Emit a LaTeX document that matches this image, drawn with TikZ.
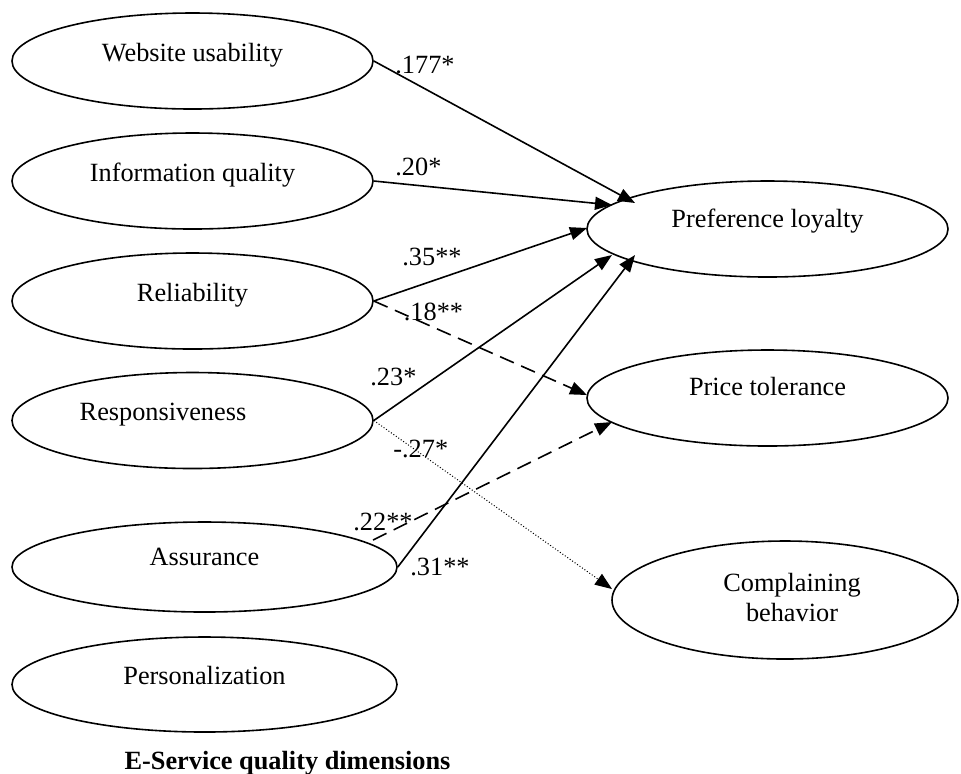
\documentclass[tikz,border=0pt]{standalone}
\usepackage{fontspec}
\setmainfont{Liberation Serif}
\usetikzlibrary{shapes.geometric,arrows.meta}
\begin{document}
\begin{tikzpicture}[x=0.5pt,y=-0.5pt,
  ell/.style={draw,ellipse,line width=0.8pt,inner sep=0pt},
  lft/.style={ell,minimum width=180.5pt,minimum height=48pt},
  txt/.style={anchor=base,inner sep=0pt,font=\fontsize{13.15}{15.8}\selectfont},
  coef/.style={anchor=base west,inner sep=0pt,font=\fontsize{13.15}{15.8}\selectfont},
  arr/.style={line width=0.8pt,-{Triangle[length=8.5pt,width=6.5pt]}},
  dsh/.style={dash pattern=on 7.5pt off 4pt},
  dtt/.style={dash pattern=on 0.5pt off 1pt,line width=0.5pt}
]
\useasboundingbox (0,0) rectangle (961,773);

% left ellipses
\node[lft] (wu) at (192.5,61) {};
\node[lft] (iq) at (192.5,181) {};
\node[lft] (re) at (192.5,301) {};
\node[lft] (rs) at (192.5,420.5) {};
\node[ell,minimum width=192.5pt,minimum height=45pt] (as) at (204.5,567) {};
\node[ell,minimum width=192.5pt,minimum height=47.5pt] (pz) at (204.5,684.5) {};
% right ellipses
\node[lft] (pl) at (767.5,229) {};
\node[lft] (pt) at (767.5,398) {};
\node[ell,minimum width=173pt,minimum height=59pt] (cb) at (785,600) {};

% texts
\node[txt] (wut) at (wu.center) {Website usability};
\node[txt] (iqt) at (iq.center) {Information quality};
\node[txt] (ret) at (re.center) {Reliability};
\node[txt] (rst) at ([xshift=-14.75pt]rs.center) {Responsiveness};
\node[txt] (ast) at ([yshift=0.75pt]as.center) {Assurance};
\node[txt] (pzt) at ([yshift=0.25pt]pz.center) {Personalization};
\node[txt] (plt) at ([yshift=0.75pt]pl.center) {Preference loyalty};
\node[txt] (ptt) at ([yshift=1.25pt]pt.center) {Price tolerance};
\node[txt] (cbt1) at ([xshift=3.5pt,yshift=4.5pt]cb.center) {Complaining};
\node[txt] (cbt2) at ([xshift=3.5pt,yshift=-10.5pt]cb.center) {behavior};
\node[txt,font=\fontsize{13.15}{15.8}\selectfont\bfseries] (title) at (287.5,769) {E-Service quality dimensions};

% connectors
\draw[arr] (wu.east) -- ([shift={(-132.5,-26)}]pl.center);
\draw[arr] (iq.east) -- ([shift={(-155.5,-24)}]pl.center);
\draw[arr] (re.east) -- ([shift={(-180.5,-1)}]pl.center);
\draw[arr,dsh] (re.east) -- ([shift={(-180.5,-3)}]pt.center);
\draw[arr] (rs.east) -- ([shift={(-155.5,26)}]pl.center);
\draw[arr,dtt] (rs.east) -- ([shift={(-173,-11)}]cb.center);
\draw[arr] (as.east) -- ([shift={(-132.5,26)}]pl.center);
\draw[arr,dsh] ([shift={(168.5,-27)}]as.center) -- ([shift={(-155.5,24)}]pt.center);

% coefficients
\node[coef] (c1) at (395,73) {.177*};
\node[coef] (c2) at (395,175) {.20*};
\node[coef] (c3) at (402,265) {.35**};
\node[coef] (c4) at (403.5,320) {.18**};
\node[coef] (c5) at (370,385) {.23*};
\node[coef] (c6) at (393,457) {-.27*};
\node[coef] (c7) at (353,530) {.22**};
\node[coef] (c8) at (410,575) {.31**};
\end{tikzpicture}
\end{document}
